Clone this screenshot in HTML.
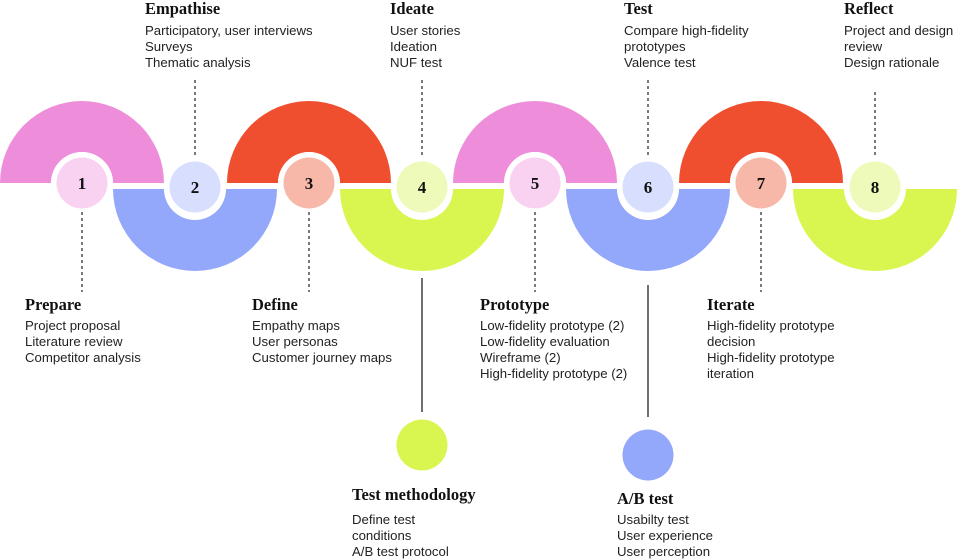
<!DOCTYPE html>
<html><head><meta charset="utf-8"><style>
html,body{margin:0;padding:0;background:#fff;}
svg{display:block}
.h{font-family:"Liberation Serif",serif;font-weight:bold;font-size:16.5px;fill:#111}
.t{font-family:"Liberation Sans",sans-serif;font-size:13.2px;fill:#222}
.n{font-family:"Liberation Serif",serif;font-weight:bold;font-size:17px;fill:#111;text-anchor:middle}
.d{stroke:#222;stroke-width:1.2;stroke-dasharray:3 3}
</style></head><body>
<svg width="962" height="560" viewBox="0 0 962 560">
<g>
<path d="M0,183 A82,82 0 0 1 164,183 L113,183 A31,31 0 0 0 51,183 Z" fill="#EE8EDB"/>
<path d="M227,183 A82,82 0 0 1 391,183 L340,183 A31,31 0 0 0 278,183 Z" fill="#F04F2F"/>
<path d="M453,183 A82,82 0 0 1 617,183 L566,183 A31,31 0 0 0 504,183 Z" fill="#EE8EDB"/>
<path d="M679,183 A82,82 0 0 1 843,183 L792,183 A31,31 0 0 0 730,183 Z" fill="#F04F2F"/>
<path d="M113,189 A82,82 0 0 0 277,189 L226,189 A31,31 0 0 1 164,189 Z" fill="#94A8FB"/>
<path d="M340,189 A82,82 0 0 0 504,189 L453,189 A31,31 0 0 1 391,189 Z" fill="#D9F650"/>
<path d="M566,189 A82,82 0 0 0 730,189 L679,189 A31,31 0 0 1 617,189 Z" fill="#94A8FB"/>
<path d="M793,189 A82,82 0 0 0 957,189 L906,189 A31,31 0 0 1 844,189 Z" fill="#D9F650"/>
</g>
<g>
<circle cx="82" cy="183" r="31" fill="#fff"/><circle cx="82" cy="183" r="25.5" fill="#F8D2F0"/>
<circle cx="195" cy="187" r="31" fill="#fff"/><circle cx="195" cy="187" r="25.5" fill="#D8DEFE"/>
<circle cx="309" cy="183" r="31" fill="#fff"/><circle cx="309" cy="183" r="25.5" fill="#F7B8AA"/>
<circle cx="422" cy="187" r="31" fill="#fff"/><circle cx="422" cy="187" r="25.5" fill="#EEFABA"/>
<circle cx="535" cy="183" r="31" fill="#fff"/><circle cx="535" cy="183" r="25.5" fill="#F8D2F0"/>
<circle cx="648" cy="187" r="31" fill="#fff"/><circle cx="648" cy="187" r="25.5" fill="#D8DEFE"/>
<circle cx="761" cy="183" r="31" fill="#fff"/><circle cx="761" cy="183" r="25.5" fill="#F7B8AA"/>
<circle cx="875" cy="187" r="31" fill="#fff"/><circle cx="875" cy="187" r="25.5" fill="#EEFABA"/>
</g>
<g>
<text class="n" x="82" y="189">1</text>
<text class="n" x="195" y="193">2</text>
<text class="n" x="309" y="189">3</text>
<text class="n" x="422" y="193">4</text>
<text class="n" x="535" y="189">5</text>
<text class="n" x="648" y="193">6</text>
<text class="n" x="761" y="189">7</text>
<text class="n" x="875" y="193">8</text>
</g>
<line class="d" x1="195" y1="80" x2="195" y2="156"/>
<line class="d" x1="422" y1="80" x2="422" y2="156"/>
<line class="d" x1="648" y1="80" x2="648" y2="156"/>
<line class="d" x1="875" y1="92" x2="875" y2="156"/>
<line class="d" x1="82" y1="212" x2="82" y2="292"/>
<line class="d" x1="309" y1="212" x2="309" y2="292"/>
<line class="d" x1="535" y1="212" x2="535" y2="292"/>
<line class="d" x1="761" y1="212" x2="761" y2="292"/>
<line x1="422" y1="278" x2="422" y2="412" stroke="#222" stroke-width="1.3"/>
<line x1="648" y1="285" x2="648" y2="417" stroke="#222" stroke-width="1.3"/>
<circle cx="422" cy="445" r="25.5" fill="#D9F650"/>
<circle cx="648" cy="455" r="25.5" fill="#94A8FB"/>
<text class="h" x="145" y="14">Empathise</text>
<text class="t" x="145" y="35">Participatory, user interviews</text>
<text class="t" x="145" y="51">Surveys</text>
<text class="t" x="145" y="67">Thematic analysis</text>
<text class="h" x="390" y="14">Ideate</text>
<text class="t" x="390" y="35">User stories</text>
<text class="t" x="390" y="51">Ideation</text>
<text class="t" x="390" y="67">NUF test</text>
<text class="h" x="624" y="14">Test</text>
<text class="t" x="624" y="35">Compare high-fidelity</text>
<text class="t" x="624" y="51">prototypes</text>
<text class="t" x="624" y="67">Valence test</text>
<text class="h" x="844" y="14">Reflect</text>
<text class="t" x="844" y="35">Project and design</text>
<text class="t" x="844" y="51">review</text>
<text class="t" x="844" y="67">Design rationale</text>
<text class="h" x="25" y="310">Prepare</text>
<text class="t" x="25" y="330">Project proposal</text>
<text class="t" x="25" y="346">Literature review</text>
<text class="t" x="25" y="362">Competitor analysis</text>
<text class="h" x="252" y="310">Define</text>
<text class="t" x="252" y="330">Empathy maps</text>
<text class="t" x="252" y="346">User personas</text>
<text class="t" x="252" y="362">Customer journey maps</text>
<text class="h" x="480" y="310">Prototype</text>
<text class="t" x="480" y="330">Low-fidelity prototype (2)</text>
<text class="t" x="480" y="346">Low-fidelity evaluation</text>
<text class="t" x="480" y="362">Wireframe (2)</text>
<text class="t" x="480" y="378">High-fidelity prototype (2)</text>
<text class="h" x="707" y="310">Iterate</text>
<text class="t" x="707" y="330">High-fidelity prototype</text>
<text class="t" x="707" y="346">decision</text>
<text class="t" x="707" y="362">High-fidelity prototype</text>
<text class="t" x="707" y="378">iteration</text>
<text class="h" x="352" y="500">Test methodology</text>
<text class="t" x="352" y="524">Define test</text>
<text class="t" x="352" y="540">conditions</text>
<text class="t" x="352" y="556">A/B test protocol</text>
<text class="h" x="617" y="504">A/B test</text>
<text class="t" x="617" y="524">Usabilty test</text>
<text class="t" x="617" y="540">User experience</text>
<text class="t" x="617" y="556">User perception</text>
</svg>
</body></html>
